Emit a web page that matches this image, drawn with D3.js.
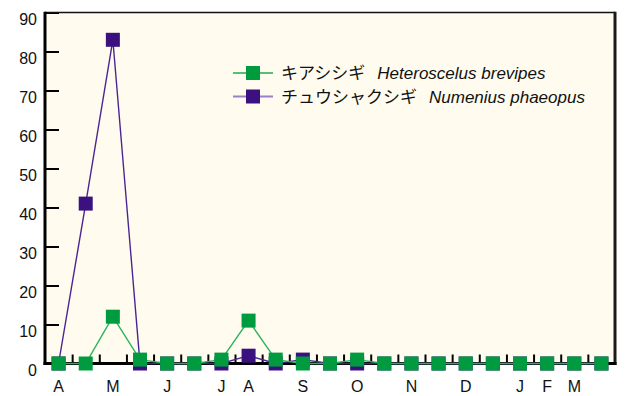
<!DOCTYPE html>
<html>
<head>
<meta charset="utf-8">
<script src="https://cdn.jsdelivr.net/npm/d3@7"></script>
<style>
  html, body { margin: 0; padding: 0; background: #fff; }
  svg { display: block; }
  text { font-family: "Liberation Sans", Arial, sans-serif; fill: #111; }
</style>
</head>
<body>
<svg id="chart" width="626" height="396"></svg>
<script>
// Semi-monthly survey periods (April to the following March, 21 counts)
const periods = d3.range(21);
const periodLabels = ["A", "", "M", "", "J", "", "J", "A", "", "S", "", "O", "", "N", "", "D", "", "J", "F", "M", ""];

// Counts per survey
const kiashishigi = [0, 0, 12, 1, 0, 0, 1, 11, 1, 0, 0, 1, 0, 0, 0, 0, 0, 0, 0, 0, 0];
const chushakushigi = [0, 41, 83, 0, 0, 0, 0, 2, 0, 1, 0, 0, 0, 0, 0, 0, 0, 0, 0, 0, 0];

const yTicks = [0, 10, 20, 30, 40, 50, 60, 70, 80, 90];

const series = [
  { name: "チュウシャクシギ", sci: "Numenius phaeopus", values: chushakushigi,
    marker: "#3b1180", line: "#4b2593", legendLine: "#9a80c4", legendWidth: 2.2 },
  { name: "キアシシギ", sci: "Heteroscelus brevipes", values: kiashishigi,
    marker: "#009b3f", line: "#2cb35c", legendLine: "#22a850", legendWidth: 1.3 }
];

const svg = d3.select("#chart");
const plotL = 45, plotR = 615, plotT = 12.5, plotB = 363.5;

const x = d3.scaleBand().domain(periods).range([plotL, plotR]).padding(0);
const xEdge = d3.scaleLinear().domain([-0.5, 20.5]).range([plotL, plotR]);
const y = d3.scaleLinear().domain([0, 90]).range([plotB, plotT]);

// plot background
svg.append("rect")
  .attr("x", plotL).attr("y", plotT)
  .attr("width", plotR - plotL).attr("height", plotB - plotT)
  .attr("fill", "#fffcef");

// y axis with inward ticks
const yAxis = svg.append("g")
  .attr("transform", `translate(${plotL},0)`)
  .call(d3.axisLeft(y).tickValues(yTicks).tickSize(-14).tickPadding(22));
yAxis.select(".domain").remove();
yAxis.selectAll(".tick line").attr("stroke", "#000").attr("stroke-width", 2);
yAxis.selectAll(".tick text")
  .attr("font-size", 16).attr("dy", "0.72em").attr("x", -8)
  .style("font-family", "'Liberation Sans', Arial, sans-serif").attr("fill", "#111");

// x axis: tick marks at period boundaries
const xTickAxis = svg.append("g")
  .attr("transform", `translate(0,${plotB})`)
  .call(d3.axisBottom(xEdge).tickValues(d3.range(0.5, 20, 1)).tickSize(-9).tickFormat(""));
xTickAxis.select(".domain").remove();
xTickAxis.selectAll(".tick line").attr("stroke", "#000").attr("stroke-width", 2);

// x axis: month initials centred on periods
const xLabelAxis = svg.append("g")
  .attr("transform", `translate(0,${plotB})`)
  .call(d3.axisBottom(x).tickSize(0).tickPadding(17).tickFormat(i => periodLabels[i]));
xLabelAxis.select(".domain").remove();
xLabelAxis.selectAll(".tick text")
  .attr("font-size", 16)
  .style("font-family", "'Liberation Sans', Arial, sans-serif").attr("fill", "#111");

// frame
svg.append("line").attr("x1", plotL).attr("x2", plotR).attr("y1", plotT).attr("y2", plotT)
  .attr("stroke", "#111").attr("stroke-width", 1.6);
svg.append("line").attr("x1", plotR).attr("x2", plotR).attr("y1", plotT - 0.8).attr("y2", plotB + 1.5)
  .attr("stroke", "#1a1a1a").attr("stroke-width", 3);
svg.append("line").attr("x1", plotL).attr("x2", plotL).attr("y1", plotT - 0.8).attr("y2", plotB + 1.5)
  .attr("stroke", "#000").attr("stroke-width", 3);
svg.append("line").attr("x1", plotL - 1.5).attr("x2", plotR + 1.5).attr("y1", plotB).attr("y2", plotB)
  .attr("stroke", "#000").attr("stroke-width", 3);

// series lines and square markers
const line = d3.line().x((d, i) => x(i) + x.bandwidth() / 2).y(d => y(d));
const ms = 14;
series.forEach(s => {
  const g = svg.append("g");
  g.append("path").datum(s.values)
    .attr("d", line).attr("fill", "none")
    .attr("stroke", s.line).attr("stroke-width", 1.4);
  g.selectAll("rect").data(s.values).join("rect")
    .attr("x", (d, i) => x(i) + x.bandwidth() / 2 - ms / 2)
    .attr("y", d => y(d) - ms / 2)
    .attr("width", ms).attr("height", ms)
    .attr("fill", s.marker);
});

// legend
const legendRows = [series[1], series[0]];
const lg = svg.append("g");
legendRows.forEach((s, k) => {
  const cy = 73 + k * 23.5;
  lg.append("line").attr("x1", 233).attr("x2", 273).attr("y1", cy).attr("y2", cy)
    .attr("stroke", s.legendLine).attr("stroke-width", s.legendWidth);
  lg.append("rect").attr("x", 253 - ms / 2).attr("y", cy - ms / 2)
    .attr("width", ms).attr("height", ms).attr("fill", s.marker);
  const t = lg.append("text").attr("x", 281).attr("y", cy).attr("dy", "0.36em")
    .attr("font-size", 17);
  t.append("tspan").text(s.name)
    .style("font-family", "'Noto Sans CJK JP', sans-serif");
  t.append("tspan").attr("dx", 12).text(s.sci)
    .attr("font-style", "italic")
    .style("font-family", "'Liberation Sans', Arial, sans-serif");
});
</script>
</body>
</html>
